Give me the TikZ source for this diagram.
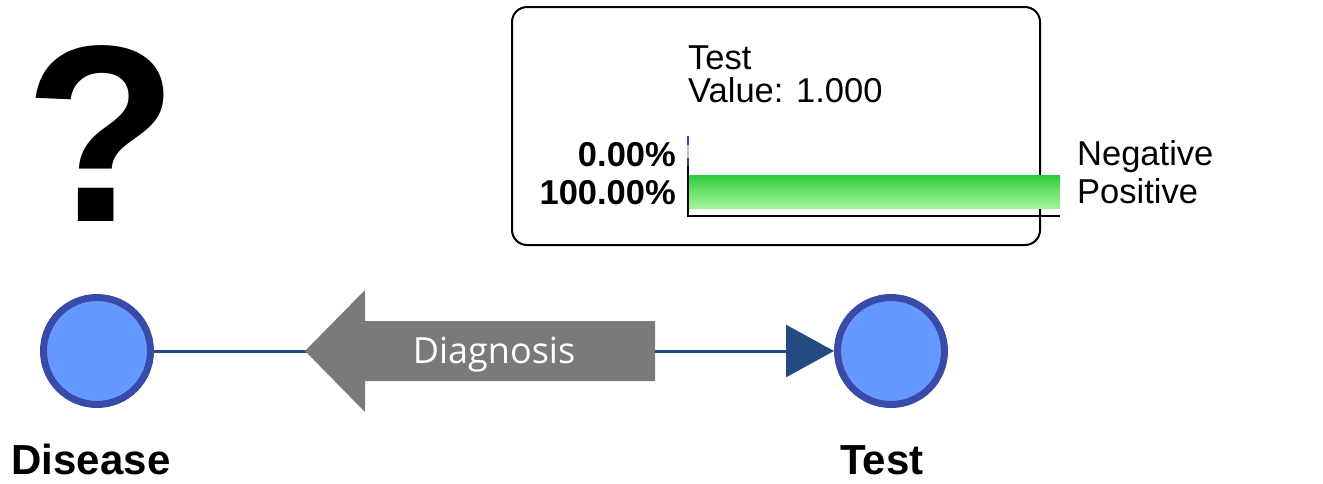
\documentclass[tikz,border=0pt]{standalone}
\usepackage{fontspec}
\setmainfont{Liberation Sans}
\newfontfamily\diagfont{Open Sans}
\usetikzlibrary{arrows.meta}
\definecolor{nodefill}{HTML}{6699FF}
\definecolor{nodeborder}{HTML}{3A4AA8}
\definecolor{connblue}{HTML}{244A82}
\definecolor{arrowgray}{HTML}{7A7A7A}
\definecolor{bartop}{HTML}{2CC83A}
\definecolor{barmid}{HTML}{6CE46C}
\definecolor{barbot}{HTML}{A0F29A}
\definecolor{tickblue}{HTML}{3A3ACC}
\begin{document}
\begin{tikzpicture}[x=1pt,y=-1pt,
  bnode/.style={circle,draw=nodeborder,fill=nodefill,line width=7pt,minimum size=107pt,inner sep=0pt},
  conn/.style={draw=connblue,line width=3pt},
  lbl/.style={inner sep=0pt,font=\fontsize{42}{48}\selectfont\bfseries},
  ptxt/.style={inner sep=0pt,font=\fontsize{34.5}{40}\selectfont},
  pct/.style={inner sep=0pt,anchor=base east,font=\fontsize{34.5}{40}\selectfont\bfseries}]
\useasboundingbox (0,0) rectangle (1323,483);
% question mark
\node[inner sep=0pt,font=\fontsize{252}{270}\selectfont\bfseries] (q) at (101,134) {?};
% panel
\draw[line width=2pt,rounded corners=15pt] (512,7) rectangle (1040,245);
\node[ptxt,anchor=base west] (ptitle) at (688,69) {Test};
\node[ptxt,anchor=base west] (pval) at (688,102) {Value: 1.000};
\node[pct] (p0) at (676,166) {0.00\%};
\node[pct] (p1) at (676,204) {100.00\%};
\node[ptxt,anchor=base west] (pneg) at (1077,165) {Negative};
\node[ptxt,anchor=base west] (ppos) at (1077,203) {Positive};
% bar chart
\shade[top color=bartop,bottom color=barbot,middle color=barmid] (688,175) rectangle (1060,208);
\draw[line width=2pt] (688,166) -- (688,216) -- (1060,216);
\draw[line width=2pt,tickblue] (688,136) -- (688,145);
\draw[line width=2pt,gray!50] (688,145) -- (688,158);
\draw[line width=2pt,tickblue] (688,158) -- (688,166);
% network
\node[bnode] (dis) at (97,351) {};
\node[bnode] (tst) at (891,351) {};
\draw[conn,-{Triangle[length=48pt,width=52pt]}] (dis) -- (tst);
\fill[arrowgray] (305,351) -- (365,290) -- (365,321) -- (655,321) -- (655,381) -- (365,381) -- (365,412) -- cycle;
\node[inner sep=0pt,text=white,font=\diagfont\fontsize{36}{42}\selectfont] (diag) at (494,355) {Diagnosis};
\node[lbl,anchor=base] (ldis) at (91,474) {Disease};
\node[lbl,anchor=base] (ltst) at (882,474) {Test};
\end{tikzpicture}
\end{document}
